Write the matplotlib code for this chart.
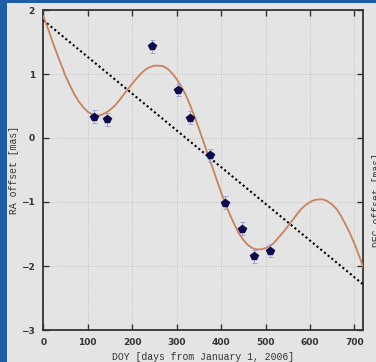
import matplotlib
matplotlib.use("Agg")
import matplotlib.pyplot as plt
from matplotlib.patches import Rectangle

# Observed RA offsets (days since 2006-01-01, mas)
obs_days = [114, 143, 244, 302, 330, 375, 409, 448, 475, 510]
obs_ra = [0.33, 0.29, 1.43, 0.75, 0.32, -0.27, -1.01, -1.42, -1.85, -1.76]
obs_err = [0.10, 0.10, 0.10, 0.10, 0.10, 0.10, 0.10, 0.10, 0.10, 0.10]

# Fitted model (proper motion + parallax), sampled every 10 days
model_days = list(range(0, 730, 10))
model_ra = [1.90, 1.72, 1.52, 1.33, 1.15, 0.97, 0.82, 0.68, 0.57, 0.48,
            0.41, 0.37, 0.35, 0.36, 0.39, 0.44, 0.50, 0.58, 0.67, 0.76,
            0.85, 0.93, 1.01, 1.07, 1.11, 1.13, 1.13, 1.12, 1.08, 1.01,
            0.92, 0.81, 0.68, 0.52, 0.34, 0.15, -0.05, -0.25, -0.45, -0.65,
            -0.85, -1.03, -1.20, -1.35, -1.49, -1.59, -1.67, -1.72, -1.74, -1.74,
            -1.72, -1.69, -1.63, -1.55, -1.47, -1.38, -1.29, -1.20, -1.11, -1.05,
            -1.00, -0.97, -0.96, -0.96, -0.99, -1.04, -1.11, -1.22, -1.35, -1.49,
            -1.65, -1.83, -2.02]

# Linear proper-motion trend
trend_days = [0, 720]
trend_ra = [1.84, -2.29]

x_ticks = [0, 100, 200, 300, 400, 500, 600, 700]
y_ticks = [-3, -2, -1, 0, 1, 2]

W, H = 376, 362
fig = plt.figure(figsize=(W / 100, H / 100), dpi=100, facecolor="#e4e4e4")

# slide background strips
fig.patches.append(Rectangle((0, 0), 7 / W, 1, transform=fig.transFigure,
                             facecolor="#1f5ca6", edgecolor="none", zorder=0))
fig.patches.append(Rectangle((0, 1 - 3 / H), 1, 3 / H, transform=fig.transFigure,
                             facecolor="#1f5ca6", edgecolor="none", zorder=0))

ax = fig.add_axes([43.3 / W, 1 - 330 / H, 320 / W, 320 / H])
ax.set_facecolor("#e4e4e4")

ax.plot(trend_days, trend_ra, color="black", linestyle=(0, (1, 1.3)),
        linewidth=1.5, zorder=3)
ax.plot(model_days, model_ra, color="#c8825c", linewidth=1.3, zorder=4)
ax.errorbar(obs_days, obs_ra, yerr=obs_err, fmt="none", ecolor="#9a9ad0",
            elinewidth=0.6, capsize=1.8, capthick=0.6, zorder=5)
ax.plot(obs_days, obs_ra, linestyle="none", marker="p", markersize=6,
        color="#0b0b4e", markeredgecolor="#0b0b4e", zorder=6)

ax.set_xlim(0, 720)
ax.set_ylim(-3, 2)
ax.set_xticks(x_ticks)
ax.set_yticks(y_ticks)
ax.grid(True, color="#c4c4c4", linestyle=(0, (1, 1.5)), linewidth=0.7)
ax.set_axisbelow(True)

for s in ax.spines.values():
    s.set_color("#333333")
    s.set_linewidth(1.3)
ax.tick_params(direction="in", length=4, width=1.0, color="#333333",
               top=True, right=True, labelsize=6.5, labelcolor="#333333", pad=6)
for lab in ax.get_xticklabels() + ax.get_yticklabels():
    lab.set_fontweight("bold")

ax.set_xlabel("DOY [days from January 1, 2006]", family="Liberation Mono",
              fontsize=7, color="#333333", labelpad=3)
ax.set_ylabel("RA offset [mas]", family="Liberation Mono", fontsize=7,
              color="#333333")
ax.yaxis.set_label_coords((19 - 43.3) / 320, 0.5)

fig.text(372 / W, 1 - 200 / H, "DEC offset [mas]", family="Liberation Mono",
         fontsize=7, color="#333333", rotation=90, ha="left", va="center")

fig.savefig("out.png", dpi=100, facecolor=fig.get_facecolor())
